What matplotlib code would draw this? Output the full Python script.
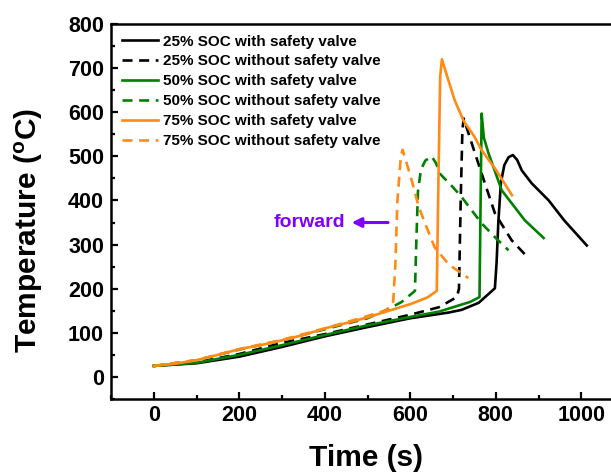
import matplotlib
matplotlib.use("Agg")
import matplotlib.pyplot as plt
from matplotlib.ticker import MultipleLocator

plt.rcParams['font.family'] = ['Liberation Sans', 'DejaVu Sans']
plt.rcParams['font.weight'] = 'bold'
plt.rcParams['mathtext.fontset'] = 'custom'
plt.rcParams['mathtext.rm'] = 'Liberation Sans:bold'
plt.rcParams['mathtext.bf'] = 'Liberation Sans:bold'

# ---- data ----
t_25_valve = [0, 100, 200, 300, 400, 500, 600, 690, 720, 760, 798, 802, 806, 812, 820, 830, 840, 850, 861, 884, 924, 960, 1013]
T_25_valve = [25, 31, 46, 68, 92, 113, 133, 146, 152, 168, 201, 260, 350, 440, 480, 498, 503, 492, 468, 439, 400, 355, 298]

t_25_novalve = [0, 100, 200, 300, 400, 500, 600, 667, 709, 714, 718, 722, 725, 744, 767, 798, 837, 868]
T_25_novalve = [25, 33, 52, 77, 97, 119, 141, 158, 181, 200, 400, 560, 586, 529, 461, 371, 310, 278]

t_50_valve = [0, 100, 200, 300, 400, 500, 600, 667, 700, 740, 762, 764, 767, 772, 783, 814, 868, 912]
T_50_valve = [25, 32, 50, 72, 95, 117, 136, 148, 158, 170, 181, 350, 597, 543, 507, 423, 355, 315]

t_50_novalve = [0, 100, 200, 300, 400, 500, 545, 580, 611, 614, 618, 625, 635, 650, 660, 670, 700, 720, 767, 800, 830]
T_50_novalve = [25, 38, 62, 83, 108, 133, 152, 170, 195, 300, 420, 470, 490, 500, 485, 460, 430, 408, 348, 315, 287]

t_75_valve = [0, 50, 100, 150, 200, 250, 300, 350, 400, 450, 500, 550, 600, 640, 662, 666, 670, 674, 690, 704, 725, 750, 767, 800, 838]
T_75_valve = [25, 30, 38, 50, 63, 72, 83, 95, 110, 122, 135, 150, 165, 180, 195, 450, 680, 720, 670, 627, 580, 545, 514, 470, 412]

t_75_novalve = [0, 100, 200, 300, 400, 500, 540, 555, 560, 565, 570, 578, 582, 590, 605, 620, 640, 657, 690, 736]
T_75_novalve = [25, 38, 63, 84, 110, 138, 150, 160, 170, 250, 400, 500, 515, 490, 440, 385, 335, 294, 255, 224]

labels = ["25% SOC with safety valve", "25% SOC without safety valve",
          "50% SOC with safety valve", "50% SOC without safety valve",
          "75% SOC with safety valve", "75% SOC without safety valve"]

BLACK = "#000000"
GREEN = "#008000"
ORANGE = "#FF8A14"
PURPLE = "#8000FF"

fig = plt.figure(figsize=(6.11, 4.73), dpi=100)
ax = fig.add_axes([111/611, 74/473, 513/611, 375/473])

lw = 1.9
dash = (0, (3.8, 2.5))
ax.plot(t_25_valve, T_25_valve, color=BLACK, lw=lw, label=labels[0])
ax.plot(t_25_novalve, T_25_novalve, color=BLACK, lw=lw, ls=dash, label=labels[1])
ax.plot(t_50_valve, T_50_valve, color=GREEN, lw=lw, label=labels[2])
ax.plot(t_50_novalve, T_50_novalve, color=GREEN, lw=lw, ls=dash, label=labels[3])
ax.plot(t_75_valve, T_75_valve, color=ORANGE, lw=lw, label=labels[4])
ax.plot(t_75_novalve, T_75_novalve, color=ORANGE, lw=lw, ls=dash, label=labels[5])

ax.set_xlim(-100, 1100)
ax.set_ylim(-50, 800)
ax.xaxis.set_minor_locator(MultipleLocator(100))
ax.yaxis.set_minor_locator(MultipleLocator(50))
ax.set_xticks([0, 200, 400, 600, 800, 1000])
ax.set_yticks([0, 100, 200, 300, 400, 500, 600, 700, 800])

ax.tick_params(which='both', direction='in', width=1.6, labelsize=15.5)
ax.tick_params(which='major', length=5)
ax.tick_params(which='minor', length=3)
ax.tick_params(axis='x', pad=4)
ax.tick_params(axis='y', pad=5)
for s in ['left', 'bottom', 'top']:
    ax.spines[s].set_linewidth(1.8)
ax.spines['right'].set_visible(False)

ax.set_xlabel("Time (s)", fontsize=21.5, fontweight='bold')
ax.set_ylabel(r"Temperature ($\mathbf{^{o}}$C)", fontsize=21.5, fontweight='bold')
ax.xaxis.set_label_coords(0.497, -0.12)
ax.yaxis.set_label_coords(-0.128, 0.45)

leg = ax.legend(loc='upper left', bbox_to_anchor=(0.021, 0.972), frameon=False,
                fontsize=11, borderpad=0, borderaxespad=0, labelspacing=0.39,
                handlelength=2.4, handletextpad=0.3)

ax.annotate('', xy=(463, 350), xytext=(548, 350),
            arrowprops=dict(arrowstyle='-|>', color=PURPLE, lw=2.2, mutation_scale=14,
                            shrinkA=0, shrinkB=0))
ax.text(449, 350, "forward", color=PURPLE, fontsize=14, fontweight='bold',
        ha='right', va='center')

fig.savefig("out.png", dpi=100)
